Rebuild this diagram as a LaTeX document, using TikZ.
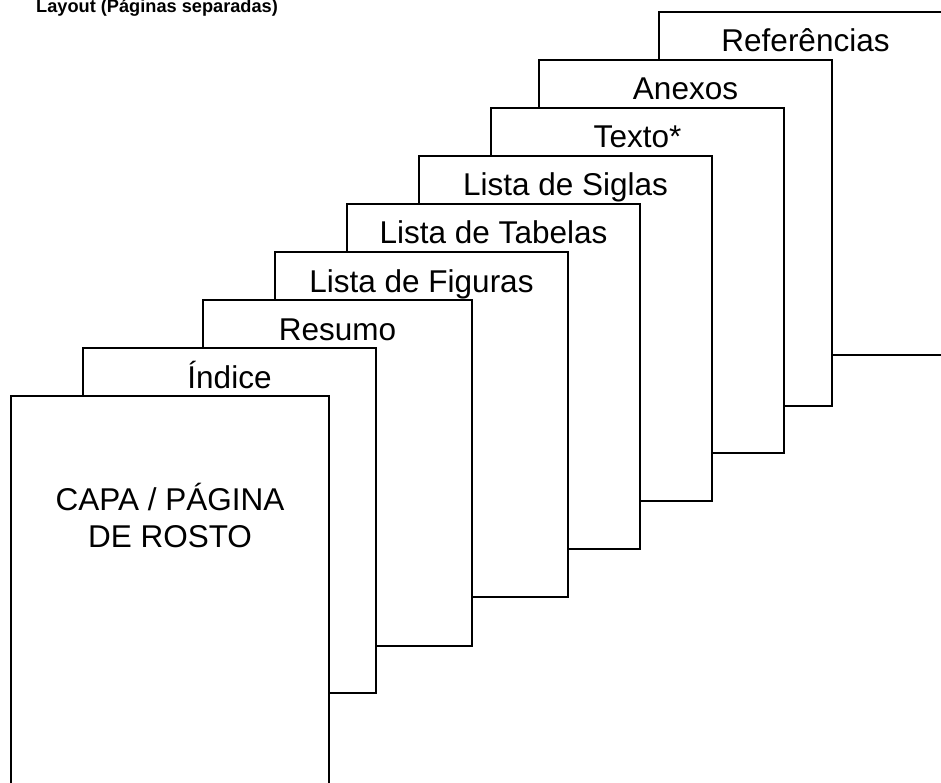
\documentclass[tikz,border=0pt]{standalone}
\usepackage{fontspec}
\setmainfont{Liberation Sans}
\begin{document}
\begin{tikzpicture}[x=1pt,y=-1pt,
  pagebox/.style={draw=black,fill=white,line width=1.4pt},
  pagelabel/.style={anchor=base,inner sep=0pt,font=\fontsize{31.5}{36}\selectfont},
  titletext/.style={anchor=base west,inner sep=0pt,font=\fontsize{18.2}{21}\selectfont\bfseries}]
\useasboundingbox (0,0) rectangle (941,783);
\clip (0,0) rectangle (941,783);
% pages from back to front: left, top, right, bottom, label
\foreach \l/\t/\r/\b/\name/\txt in {
  659/12/952/355/ref/Referências,
  539/60/832/406/anx/Anexos,
  491/108/784/453/txt/Texto*,
  419/156/712/501/sig/Lista de Siglas,
  347/204/640/549/tab/Lista de Tabelas,
  275/252/568/597/fig/Lista de Figuras,
  203/300/472/646/res/Resumo,
  83/348/376/693/ind/Índice}{
  \path[pagebox] (\l,\t) rectangle (\r,\b);
  \node[pagelabel] (\name) at ({(\l+\r)/2},\t+40) {\txt};
}
\path[pagebox] (11,396) rectangle (329,800);
\node[pagelabel] (capa1) at (170,510) {CAPA / PÁGINA};
\node[pagelabel] (capa2) at (170,547) {DE ROSTO};
\node[titletext] (title) at (36,13) {Layout (Páginas separadas)};
\end{tikzpicture}
\end{document}
